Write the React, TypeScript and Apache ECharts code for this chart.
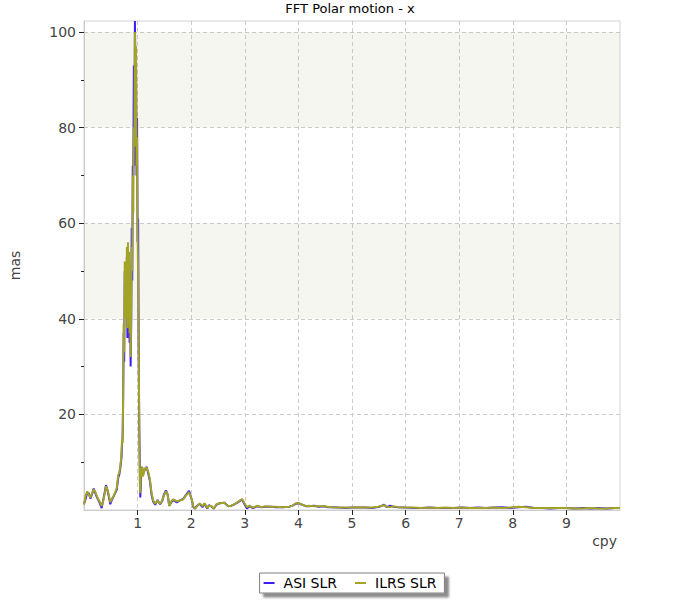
import React, { useEffect, useRef } from "react";
import * as echarts from "echarts";

const freq = [
  0.0, 0.03, 0.06, 0.09, 0.12, 0.15, 0.18, 0.21, 0.24, 0.27, 0.3, 0.33, 0.36, 0.39, 0.41, 0.44, 0.46, 0.49, 0.52, 0.55, 0.58, 0.61, 0.64, 0.66, 0.68,
  0.69, 0.7, 0.71, 0.72, 0.73, 0.74, 0.75, 0.76, 0.77, 0.78, 0.79, 0.8, 0.81, 0.82, 0.83, 0.84, 0.85, 0.86, 0.87, 0.88, 0.89, 0.9,
  0.91, 0.92, 0.93, 0.94, 0.95, 0.96, 0.97, 0.98, 0.99, 1.0, 1.01, 1.02, 1.03, 1.04, 1.05, 1.06, 1.07, 1.08, 1.09, 1.1,
  1.14, 1.17, 1.2, 1.23, 1.26, 1.29, 1.33, 1.37, 1.42, 1.46, 1.49, 1.53, 1.56, 1.59, 1.64, 1.67, 1.73, 1.79, 1.85, 1.9, 1.96,
  2.01, 2.04, 2.07, 2.11, 2.16, 2.21, 2.25, 2.3, 2.33, 2.38, 2.42, 2.47, 2.53, 2.62, 2.69, 2.75, 2.81, 2.87, 2.95, 2.99,
  3.04, 3.09, 3.15, 3.24, 3.3, 3.39, 3.49, 3.58, 3.7, 3.83, 3.89, 3.95, 4.0, 4.07, 4.14, 4.2, 4.29, 4.38, 4.48, 4.54, 4.63, 4.75, 4.88,
  5.0, 5.12, 5.25, 5.37, 5.49, 5.56, 5.6, 5.65, 5.71, 5.77, 5.86, 5.99, 6.15, 6.3, 6.45, 6.6, 6.75, 6.9, 7.05, 7.2, 7.35, 7.5, 7.65,
  7.8, 7.95, 8.1, 8.25, 8.4, 8.55, 8.7, 8.85, 9.0, 9.15, 9.3, 9.45, 9.6, 9.75, 9.9, 10.0,
];

const ilrsSlr = [
  1.1, 3.0, 3.9, 3.2, 2.6, 3.5, 4.3, 3.8, 2.9, 2.2, 1.6, 0.8, 2.0, 3.6, 5.0, 4.2, 3.3, 1.6, 2.3, 2.9, 3.6, 4.6, 7.4, 7.8, 9.5,
  10.5, 12, 15, 14, 24, 39, 33, 52, 45, 50, 40, 55, 38, 56, 42, 54, 37, 48, 32, 40, 55, 50,
  70, 62, 80, 76, 100, 92, 97, 72, 78, 58, 48, 33, 20, 6, 3.5, 7, 8.5, 8.8, 9, 7,
  8.8, 8.8, 8.0, 6.4, 3.6, 2.0, 1.3, 2.0, 1.3, 2.0, 3.0, 3.9, 3.3, 0.8, 2.0, 2.2, 1.8, 2.0, 2.2, 3.0, 3.7,
  2.3, 0.8, 0.25, 0.8, 1.4, 0.8, 1.4, 0.4, 0.9, 0.8, 0.25, 1.2, 1.4, 1.5, 0.8, 0.9, 1.2, 1.7, 2.3, 1.5,
  0.6, 0.9, 0.5, 0.9, 0.6, 0.8, 0.7, 0.7, 0.6, 0.7, 0.9, 1.4, 1.4, 1.1, 0.8, 0.9, 0.8, 0.8, 0.8, 0.7, 0.6, 0.5, 0.5,
  0.5, 0.6, 0.5, 0.5, 0.7, 0.9, 1.0, 0.7, 0.6, 0.8, 0.6, 0.5, 0.5, 0.4, 0.5, 0.4, 0.5, 0.4, 0.5, 0.4, 0.4, 0.4, 0.5,
  0.4, 0.5, 0.7, 0.6, 0.4, 0.4, 0.4, 0.4, 0.4, 0.3, 0.3, 0.4, 0.3, 0.3, 0.4, 0.4,
];

const asiSlr = [
  1.3, 2.3, 3.6, 3.5, 2.4, 3.3, 4.5, 3.6, 2.7, 2.0, 1.3, 0.4, 2.2, 3.9, 5.2, 4.0, 3.0, 1.2, 2.1, 2.8, 3.5, 4.2, 6.8, 7.5, 9.0,
  10.0, 11, 14, 15, 22, 37, 31, 50, 46, 51, 45, 53, 36, 55, 40, 52, 35, 47, 30, 38, 59, 48,
  72, 70, 93, 72, 102.3, 90, 95, 70, 82, 56, 61, 35, 18, 10.5, 2.6, 5, 8, 9, 8.5, 7.5,
  8.6, 9.0, 7.6, 6.0, 3.2, 1.8, 1.1, 2.1, 1.2, 1.9, 3.2, 4.1, 3.2, 0.9, 1.8, 2.1, 1.6, 2.0, 2.3, 3.1, 4.0,
  2.2, 0.6, 0.3, 0.9, 1.3, 0.6, 1.3, 0.3, 1.0, 0.7, 0.3, 1.1, 1.4, 1.5, 0.8, 0.9, 1.2, 1.6, 2.2, 1.3,
  0.3, 0.8, 0.4, 0.8, 0.6, 0.7, 0.7, 0.6, 0.6, 0.7, 0.9, 1.3, 1.4, 1.1, 0.8, 0.8, 0.9, 0.7, 0.8, 0.6, 0.6, 0.5, 0.4,
  0.5, 0.5, 0.5, 0.4, 0.6, 0.9, 1.1, 0.6, 0.9, 0.7, 0.6, 0.5, 0.4, 0.4, 0.5, 0.4, 0.4, 0.4, 0.5, 0.4, 0.5, 0.4, 0.5,
  0.6, 0.4, 0.6, 0.7, 0.4, 0.4, 0.3, 0.4, 0.4, 0.3, 0.4, 0.3, 0.4, 0.3, 0.4, 0.4,
];

const xTickLabels = [1, 2, 3, 4, 5, 6, 7, 8, 9];
const yTickLabels = [20, 40, 60, 80, 100];
const yMinorTicks = [10, 30, 50, 70, 90];
const bands = [
  [40, 60],
  [80, 100],
];

const FONT = "DejaVu Sans";

export default function App() {
  const ref = useRef<HTMLDivElement>(null);

  useEffect(() => {
    if (!ref.current) return;
    const chart = echarts.init(ref.current, null, { renderer: "svg" });
    const yMax = Math.max(...asiSlr, ...ilrsSlr);
    const gridLine = { color: "#cccccc", type: [4, 3] as number[], width: 1 };
    chart.setOption({
      animation: false,
      backgroundColor: "#ffffff",
      title: {
        text: "FFT Polar motion - x",
        left: "center",
        top: 2,
        padding: 0,
        textStyle: { fontFamily: FONT, fontSize: 13, fontWeight: "normal", color: "#000" },
      },
      legend: {
        bottom: 7,
        left: "center",
        orient: "horizontal",
        padding: [3, 8, 3, 4],
        itemGap: 18,
        itemWidth: 11,
        itemHeight: 2,
        icon: "rect",
        borderColor: "#808080",
        borderWidth: 1,
        backgroundColor: "#ffffff",
        shadowColor: "rgba(0,0,0,0.45)",
        shadowBlur: 2,
        shadowOffsetX: 4,
        shadowOffsetY: 4,
        textStyle: { fontFamily: FONT, fontSize: 14, color: "#000", padding: [0, 0, 0, 4] },
        data: ["ASI SLR", "ILRS SLR"],
      },
      grid: {
        left: 80,
        right: 80,
        top: 21,
        bottom: 90,
        show: true,
        borderColor: "#d3d3d3",
        borderWidth: 1,
        backgroundColor: "transparent",
      },
      xAxis: {
        type: "value",
        min: 0,
        max: 10,
        interval: 1,
        name: "cpy",
        nameLocation: "end",
        nameGap: -3,
        nameTextStyle: {
          fontFamily: FONT,
          fontSize: 14,
          color: "#444",
          align: "right",
          verticalAlign: "top",
          padding: [24, 0, 0, 0],
        },
        axisLine: { lineStyle: { color: "#cccccc" } },
        axisTick: { show: true, length: 5, customValues: xTickLabels, lineStyle: { color: "#222" } },
        axisLabel: {
          customValues: xTickLabels,
          fontFamily: FONT,
          fontSize: 14,
          color: "#444",
          margin: 6,
        },
        splitLine: { show: true, lineStyle: gridLine },
      },
      yAxis: [
        {
          type: "value",
          min: 0,
          max: yMax,
          interval: 20,
          name: "mas",
          nameLocation: "middle",
          nameGap: 62,
          nameTextStyle: { fontFamily: FONT, fontSize: 14, color: "#444" },
          axisLine: { show: true, lineStyle: { color: "#cccccc" } },
          axisTick: { show: true, length: 5, customValues: yTickLabels, lineStyle: { color: "#222" } },
          axisLabel: {
            customValues: yTickLabels,
            fontFamily: FONT,
            fontSize: 14,
            color: "#444",
            margin: 8,
          },
          splitLine: { show: true, lineStyle: gridLine },
        },
        {
          type: "value",
          min: 0,
          max: yMax,
          position: "left",
          offset: 0,
          axisLine: { show: false },
          axisTick: { show: true, length: 3, customValues: yMinorTicks, lineStyle: { color: "#222" } },
          axisLabel: { show: false },
          splitLine: { show: false },
        },
      ],
      series: [
        {
          name: "ASI SLR",
          type: "line",
          yAxisIndex: 0,
          data: freq.map((f, i) => [f, asiSlr[i]]),
          showSymbol: false,
          symbol: "none",
          color: "#3d1df5",
          lineStyle: { color: "#3d1df5", width: 2 },
          markArea: {
            silent: true,
            itemStyle: { color: "rgba(180,180,140,0.12)" },
            data: bands.map((b) => [{ yAxis: b[0] }, { yAxis: b[1] }]),
          },
        },
        {
          name: "ILRS SLR",
          type: "line",
          yAxisIndex: 0,
          data: freq.map((f, i) => [f, ilrsSlr[i]]),
          showSymbol: false,
          symbol: "none",
          color: "#a2a426",
          lineStyle: { color: "#a2a426", width: 2 },
        },
      ],
    });
    return () => chart.dispose();
  }, []);

  return (
    <div
      ref={ref}
      style={{ position: "fixed", left: 0, top: 0, width: 700, height: 600 }}
    />
  );
}
